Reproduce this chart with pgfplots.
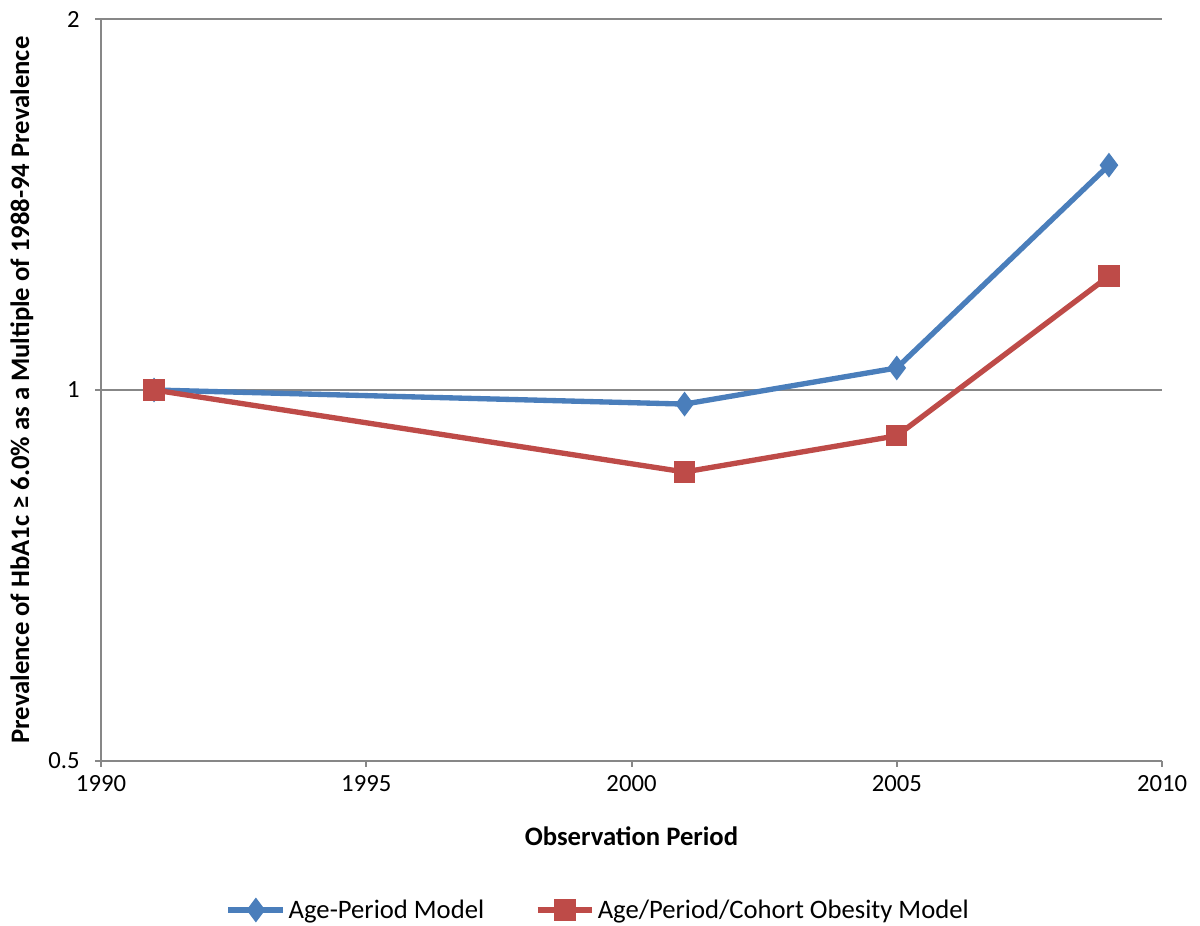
\documentclass[border=0pt]{standalone}
\usepackage{pgfplots}
\pgfplotsset{compat=1.18}
\usepackage{fontspec}
\setmainfont{Carlito}
\definecolor{blueS}{HTML}{4A7EBB}
\definecolor{redS}{HTML}{BE4B48}
\definecolor{gridc}{HTML}{878787}
\begin{document}
\begin{tikzpicture}
\begin{axis}[
  name=ax,
  scale only axis, width=795.75pt, height=556.5pt,
  xmin=1990, xmax=2010,
  ymode=log, log basis y=2, ymin=0.5, ymax=2,
  ytick={0.5,1,2}, yticklabels={0.5,1,2},
  xtick={1990,1995,2000,2005,2010}, xticklabels={1990,1995,2000,2005,2010},
  yminorticks=false, xminorticks=false,
  axis x line*=bottom, axis y line*=left,
  axis line style={gridc, line width=1.5pt, -},
  ymajorgrids, grid style={gridc, line width=1.5pt},
  tick align=outside, major tick length=4.5pt,
  tick style={gridc, line width=1.5pt},
  tick label style={font=\fontsize{18.5}{22}\selectfont, black},
  xticklabel style={yshift=-3pt},
  yticklabel style={xshift=-8pt},
  xlabel={\textbf{Observation Period}},
  ylabel={\textbf{Prevalence of HbA1c ≥ 6.0\% as a Multiple of 1988-94 Prevalence}},
  label style={font=\fontsize{20}{24}\selectfont},
  x label style={at={(axis description cs:0.5,-0.101)}, anchor=center},
  y label style={at={(axis description cs:-0.0745,0.5)}, anchor=center},
  legend columns=2,
  legend style={at={(axis description cs:0.469,-0.2008)}, anchor=center, draw=none,
    font=\fontsize{20}{24}\selectfont, column sep=0pt,
    /tikz/every even column/.append style={column sep=36pt}},
  legend image code/.code={%
    \draw[mark repeat=2,mark phase=2] plot coordinates {(0pt,0pt)(20.6pt,0pt)(41.2pt,0pt)};},
]
\addplot[blueS, line width=4pt, mark=diamond*, mark size=8.5pt, mark options={solid, line width=1pt}]
  coordinates {(1991,1.0) (2001,0.974) (2005,1.042) (2009,1.522)};
\addlegendentry{Age-Period Model}
\addplot[redS, line width=4pt, mark=square*, mark size=7.5pt, mark options={solid, line width=1pt}]
  coordinates {(1991,1.0) (2001,0.858) (2005,0.918) (2009,1.237)};
\addlegendentry{Age/Period/Cohort Obesity Model}
\end{axis}
\path[use as bounding box] ([xshift=-75.75pt,yshift=-123pt]ax.south west) rectangle ([xshift=28.5pt,yshift=14.25pt]ax.north east);
\end{tikzpicture}
\end{document}
